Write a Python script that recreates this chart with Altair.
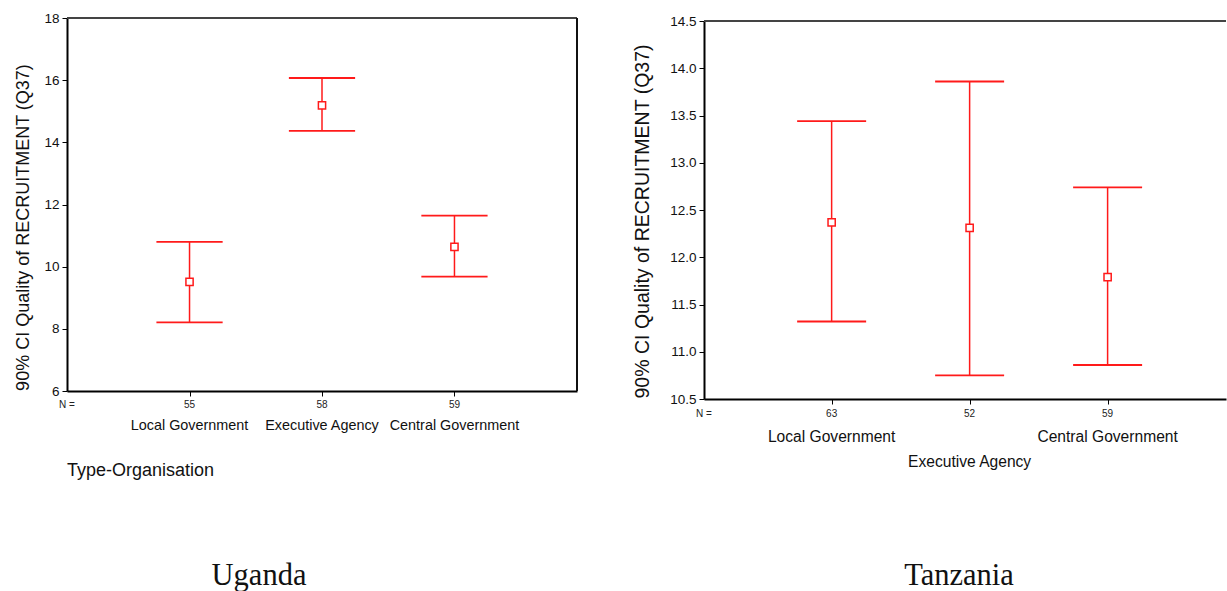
import altair as alt
import pandas as pd

# Organisation types (same order in both countries)
GROUPS = ["Local Government", "Executive Agency", "Central Government"]
POSITIONS = [1, 2, 3]

# Uganda: mean and 90% confidence interval of recruitment quality (Q37)
UG_MEAN = [9.51, 15.19, 10.64]
UG_LOWER = [8.21, 14.37, 9.68]
UG_UPPER = [10.80, 16.07, 11.64]
UG_N = [55, 58, 59]

# Tanzania
TZ_MEAN = [12.37, 12.31, 11.79]
TZ_LOWER = [11.32, 10.75, 10.86]
TZ_UPPER = [13.44, 13.86, 12.74]
TZ_N = [63, 52, 59]

UG_Y_TICKS = [6, 8, 10, 12, 14, 16, 18]
TZ_Y_TICKS = [10.5, 11.0, 11.5, 12.0, 12.5, 13.0, 13.5, 14.0, 14.5]

RED = "#ff1a1a"
SANS = "Liberation Sans"
SERIF = "Liberation Serif"
Y_TITLE = "90% CI Quality of RECRUITMENT (Q37)"


def frame(mean, lower, upper, n):
    df = pd.DataFrame({
        "group": GROUPS,
        "pos": POSITIONS,
        "mean": mean,
        "lower": lower,
        "upper": upper,
        "n": [str(v) for v in n],
    })
    df["cap_lo"] = df["pos"] - 0.25
    df["cap_hi"] = df["pos"] + 0.25
    return df


def spacer(base, x, x2, y, y2):
    # invisible block that fixes the outer bounds of the figure
    return base.transform_filter("datum.pos == 1").mark_rect(opacity=0).encode(
        x=alt.value(x), x2=alt.value(x2), y=alt.value(y), y2=alt.value(y2))


def panel(df, x_dom, y_dom, y_ticks, y_range, y_fmt, title_x, title_y,
          title_size, tick_size, n_base, label_rows, label_size, caption,
          caption_x, right_border, extra=None):
    xs = alt.Scale(domain=x_dom, nice=False, zero=False)
    ys_kw = dict(domain=y_dom, nice=False, zero=False)
    if y_range is not None:
        ys_kw["range"] = y_range
    ys = alt.Scale(**ys_kw)

    x_axis = alt.Axis(values=POSITIONS, labels=False, title=None, grid=False,
                      domainColor="#000", domainWidth=2, tickColor="#000",
                      tickSize=5, tickWidth=1)
    y_axis = alt.Axis(values=y_ticks, format=y_fmt, title=Y_TITLE, grid=False,
                      domainColor="#000", domainWidth=2, tickColor="#000",
                      tickSize=5, tickWidth=1, labelFont=SANS,
                      labelFontSize=tick_size, labelColor="#111", labelPadding=3,
                      titleFont=SANS, titleFontSize=title_size,
                      titleFontWeight="normal", titleColor="#111",
                      titleX=title_x, titleY=title_y, titleAngle=270,
                      titleAlign="center", titleBaseline="middle")

    base = alt.Chart(df)
    bars = base.mark_rule(color=RED, strokeWidth=1.5).encode(
        x=alt.X("pos:Q", scale=xs, axis=x_axis),
        y=alt.Y("lower:Q", scale=ys, axis=y_axis),
        y2="upper:Q",
    )
    cap_top = base.mark_rule(color=RED, strokeWidth=1.8).encode(
        x="cap_lo:Q", x2="cap_hi:Q", y="upper:Q")
    cap_bot = base.mark_rule(color=RED, strokeWidth=1.8).encode(
        x="cap_lo:Q", x2="cap_hi:Q", y="lower:Q")
    means = base.mark_point(shape="square", size=52, filled=True, fill="white",
                            stroke=RED, strokeWidth=1.5, opacity=1).encode(
        x="pos:Q", y="mean:Q")

    # frame lines closing the plot box
    top_line = base.mark_rule(color="#444", strokeWidth=2).encode(
        x=alt.datum(x_dom[0]), x2=alt.datum(x_dom[1]), y=alt.datum(y_dom[1]))
    layers = [top_line]
    if right_border:
        layers.append(base.mark_rule(color="#111", strokeWidth=2).encode(
            x=alt.datum(x_dom[1]), y=alt.datum(y_dom[0]), y2=alt.datum(y_dom[1])))

    n_text = base.mark_text(font=SANS, fontSize=10, color="#222",
                            baseline="alphabetic").encode(
        x="pos:Q", y=alt.value(n_base), text="n:N")
    n_head = base.transform_filter("datum.pos == 1").mark_text(
        font=SANS, fontSize=10, color="#222", text="N =",
        baseline="alphabetic").encode(x=alt.datum(x_dom[0]), y=alt.value(n_base))

    label_layers = []
    for flt, yb in label_rows:
        label_layers.append(
            base.transform_filter(flt).mark_text(
                font=SANS, fontSize=label_size, color="#111", baseline="alphabetic"
            ).encode(x="pos:Q", y=alt.value(yb), text="group:N"))

    cap_text = base.transform_filter("datum.pos == 1").mark_text(
        font=SERIF, fontSize=30.5, color="#111", text=caption,
        baseline="alphabetic").encode(x=alt.value(caption_x), y=alt.value(567))

    layers += [bars, cap_top, cap_bot, means, n_text, n_head] + label_layers + [cap_text]
    if extra is not None:
        layers += extra(base)
    return alt.layer(*layers)


ug = frame(UG_MEAN, UG_LOWER, UG_UPPER, UG_N)
tz = frame(TZ_MEAN, TZ_LOWER, TZ_UPPER, TZ_N)


def left_extras(base):
    type_org = base.transform_filter("datum.pos == 1").mark_text(
        font=SANS, fontSize=18, color="#111", text="Type-Organisation",
        align="left", baseline="alphabetic").encode(x=alt.value(0), y=alt.value(458))
    return [type_org, spacer(base, -67, 0, -18, 0)]


def right_extras(base):
    return [spacer(base, 0, 1, 0, 573)]


left = panel(
    ug, x_dom=[0.075, 3.925], y_dom=[6, 18], y_ticks=UG_Y_TICKS, y_range=None,
    y_fmt="d", title_x=-44, title_y=209, title_size=18, tick_size=13.5,
    n_base=390, label_rows=[("true", 412)], label_size=14.4,
    caption="Uganda", caption_x=192, right_border=True, extra=left_extras,
).properties(width=510, height=373)

right = panel(
    tz, x_dom=[0.075, 3.858], y_dom=[10.5, 14.5], y_ticks=TZ_Y_TICKS,
    y_range=[381, 3], y_fmt=".1f", title_x=-62, title_y=203, title_size=19.5,
    tick_size=13.5, n_base=399,
    label_rows=[("datum.pos != 2", 424), ("datum.pos == 2", 449)],
    label_size=15.6, caption="Tanzania", caption_x=255, right_border=False,
    extra=right_extras,
).properties(width=522, height=381)

chart = alt.hconcat(left, right, spacing=127, bounds="flush").properties(
    padding=0,
    background="white",
).configure_view(stroke=None)

chart.save("out.html", embed_options={"renderer": "svg", "actions": False})
